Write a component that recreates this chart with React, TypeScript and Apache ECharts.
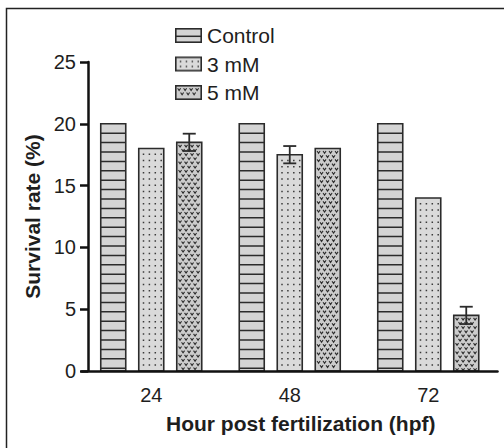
import React, { useEffect, useRef } from "react";
import * as echarts from "echarts";

const categories = ["24", "48", "72"];
const controlValues = [20, 20, 20];
const mM3Values = [18, 17.5, 14];
const mM5Values = [18.5, 18, 4.5];
const mM3Errors = [0, 0.7, 0];
const mM5Errors = [0.7, 0, 0.7];
const seriesNames = ["Control", "3 mM", "5 mM"];
const yTicks = { min: 0, max: 25, interval: 5 };

const FONT = "'Liberation Sans', Arial, Helvetica, sans-serif";
const BAR_W = 25;
const BAR_GAP_PX = 13;
const INK = "#2b2b2b";
const FILLS = ["#d4d4d4", "#dadada", "#cccccc"];

type Kind = 0 | 1 | 2;

// Build pattern path inside a rectangle
function patternPath(kind: Kind, x0: number, y0: number, x1: number, y1: number, legend = false) {
  let d = "";
  if (kind === 0) {
    const step = legend ? 7.5 : 9.4;
    for (let y = y0 + step; y < y1 - 2; y += step) d += `M${x0} ${y.toFixed(2)}H${x1}`;
  } else if (kind === 1) {
    const sy = legend ? 5 : 6.2;
    for (let y = y0 + (legend ? 3.5 : 5); y < y1 - 2; y += sy) {
      for (let x = x0 + 4; x < x1 - 2; x += 5.9) {
        d += `M${x.toFixed(2)} ${y.toFixed(2)}h1.5v1.5h-1.5Z`;
      }
    }
  } else {
    let r = 0;
    for (let y = y0 + 2.5; y < y1 - 2.5; y += 4.2, r++) {
      for (let x = x0 + 1.8 + (r % 2) * 3; x + 3 < x1 - 1; x += 6) {
        d += `M${x.toFixed(2)} ${y.toFixed(2)}l1.5 2.2l1.5 -2.2`;
      }
    }
  }
  return d;
}

function drawSwatch(kind: Kind) {
  const w = 27;
  const h = 15;
  const c = document.createElement("canvas");
  c.width = w;
  c.height = h;
  const ctx = c.getContext("2d")!;
  ctx.fillStyle = FILLS[kind];
  ctx.fillRect(0, 0, w, h);
  const p = new Path2D(patternPath(kind, 0.8, 0.8, w - 0.8, h - 0.8, true));
  if (kind === 1) {
    ctx.fillStyle = "#3a3a3a";
    ctx.fill(p);
  } else {
    ctx.strokeStyle = INK;
    ctx.lineWidth = kind === 0 ? 1.5 : 1.1;
    ctx.stroke(p);
  }
  ctx.strokeStyle = INK;
  ctx.lineWidth = 1.6;
  ctx.strokeRect(0.8, 0.8, w - 1.6, h - 1.6);
  return "image://" + c.toDataURL();
}

export default function App() {
  const ref = useRef<HTMLDivElement>(null);
  useEffect(() => {
    if (!ref.current) return;
    const chart = echarts.init(ref.current, undefined, { renderer: "svg" });

    const barSeries = (name: string, values: number[], slot: number, kind: Kind) => ({
      type: "custom",
      name,
      z: 2,
      encode: { x: 0, y: 1 },
      data: values.map((v, i) => [i, v]),
      itemStyle: { color: FILLS[kind] },
      renderItem: (_p: any, api: any) => {
        const i = api.value(0);
        const v = api.value(1);
        const top = api.coord([i, v]);
        const base = api.coord([i, 0]);
        const cx = top[0] + (slot - 1) * (BAR_W + BAR_GAP_PX);
        const x0 = cx - BAR_W / 2;
        const x1 = cx + BAR_W / 2;
        const y0 = top[1];
        const y1 = base[1];
        const d = patternPath(kind, x0, y0, x1, y1);
        const patStyle =
          kind === 1
            ? { fill: "#3a3a3a", stroke: "none" }
            : { fill: "none", stroke: INK, lineWidth: kind === 0 ? 1.5 : 1.1 };
        return {
          type: "group",
          children: [
            { type: "rect", shape: { x: x0, y: y0, width: BAR_W, height: y1 - y0 }, style: { fill: FILLS[kind], stroke: "none" } },
            { type: "path", shape: { pathData: d }, style: patStyle },
            { type: "rect", shape: { x: x0, y: y0, width: BAR_W, height: y1 - y0 }, style: { fill: "none", stroke: INK, lineWidth: 1.6 } },
          ],
        };
      },
    });

    const errSeries = (name: string, values: number[], errs: number[], slot: number) => ({
      type: "custom",
      name,
      z: 10,
      silent: true,
      encode: { x: 0, y: 1 },
      data: values.map((v, i) => [i, v, errs[i]]),
      renderItem: (_p: any, api: any) => {
        const i = api.value(0);
        const v = api.value(1);
        const e = api.value(2);
        if (!e) return { type: "group", children: [] };
        const hi = api.coord([i, v + e]);
        const lo = api.coord([i, v - e]);
        const cx = hi[0] + (slot - 1) * (BAR_W + BAR_GAP_PX);
        const cap = 6.5;
        const st = { stroke: INK, lineWidth: 1.8 };
        return {
          type: "group",
          children: [
            { type: "line", shape: { x1: cx, y1: hi[1], x2: cx, y2: lo[1] }, style: st },
            { type: "line", shape: { x1: cx - cap, y1: hi[1], x2: cx + cap, y2: hi[1] }, style: st },
            { type: "line", shape: { x1: cx - cap, y1: lo[1], x2: cx + cap, y2: lo[1] }, style: st },
          ],
        };
      },
    });

    chart.setOption({
      animation: false,
      textStyle: { fontFamily: FONT },
      graphic: [
        {
          type: "rect",
          shape: { x: 6.5, y: 8.5, width: 700, height: 700 },
          style: { fill: "none", stroke: "#222", lineWidth: 1.5 },
          silent: true,
        },
      ],
      legend: {
        data: seriesNames.map((n, k) => ({ name: n, icon: drawSwatch(k as Kind) })),
        orient: "vertical",
        left: 175,
        top: 25,
        padding: 0,
        itemWidth: 27,
        itemHeight: 15,
        itemGap: 7.5,
        textStyle: { fontSize: 21, color: "#1e1e1e", fontFamily: FONT },
      },
      grid: { left: 82, right: 6.5, top: 62, bottom: 77 },
      xAxis: {
        type: "category",
        data: categories,
        name: "Hour post fertilization (hpf)",
        nameLocation: "middle",
        nameGap: 42,
        nameTextStyle: { fontSize: 21, fontWeight: "bold", color: "#1e1e1e", fontFamily: FONT, padding: [0, 0, 0, 22] },
        axisLine: { lineStyle: { color: "#111", width: 2.5 } },
        axisTick: { alignWithLabel: true, length: 9, lineStyle: { color: "#111", width: 2.5 } },
        axisLabel: { fontSize: 20, color: "#1e1e1e", margin: 14, fontFamily: FONT },
        z: 5,
      },
      yAxis: {
        type: "value",
        min: yTicks.min,
        max: yTicks.max,
        interval: yTicks.interval,
        offset: -6,
        name: "Survival rate (%)",
        nameLocation: "middle",
        nameGap: 44,
        nameTextStyle: { fontSize: 21, fontWeight: "bold", color: "#1e1e1e", fontFamily: FONT },
        splitLine: { show: false },
        axisLine: { show: true, lineStyle: { color: "#111", width: 2.5 } },
        axisTick: { show: true, length: 8, lineStyle: { color: "#111", width: 2.5 } },
        axisLabel: { fontSize: 20, color: "#1e1e1e", margin: 12, fontFamily: FONT },
        z: 5,
      },
      series: [
        barSeries(seriesNames[0], controlValues, 0, 0),
        barSeries(seriesNames[1], mM3Values, 1, 1),
        barSeries(seriesNames[2], mM5Values, 2, 2),
        errSeries("3 mM error", mM3Values, mM3Errors, 1),
        errSeries("5 mM error", mM5Values, mM5Errors, 2),
      ],
    });
    return () => chart.dispose();
  }, []);
  return (
    <div
      ref={ref}
      style={{ position: "fixed", left: 0, top: 0, width: 504, height: 448, background: "#fff" }}
    />
  );
}
